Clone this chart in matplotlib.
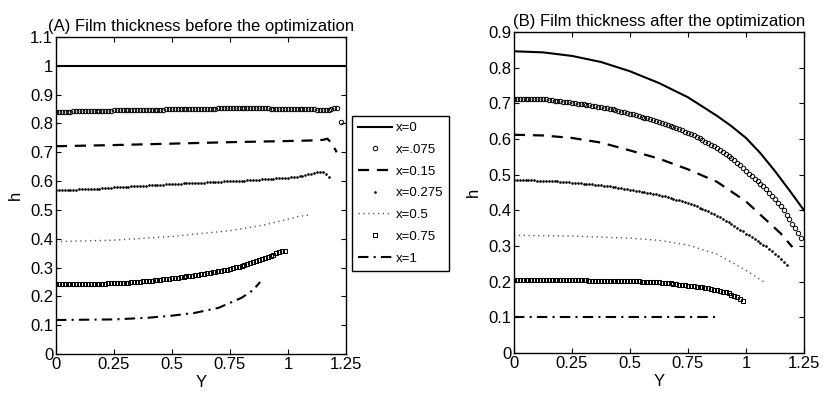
import numpy as np
import matplotlib
matplotlib.use("Agg")
import matplotlib.pyplot as plt
from matplotlib.ticker import FuncFormatter

plt.rcParams['font.family'] = ['Liberation Sans', 'DejaVu Sans']

labels = ['x=0', 'x=.075', 'x=0.15', 'x=0.275', 'x=0.5', 'x=0.75', 'x=1']
step = 0.0125

# ---- (A) before the optimization ----
a_y0 = [0, 1.25]
a_h0 = [1.0, 1.0]

a_h1 = [0.841, 0.841, 0.841, 0.841, 0.841, 0.841, 0.842, 0.842, 0.842, 0.842,
        0.842, 0.842, 0.843, 0.843, 0.843, 0.843, 0.844, 0.844, 0.844, 0.844,
        0.845, 0.845, 0.845, 0.845, 0.846, 0.846, 0.846, 0.846, 0.847, 0.847,
        0.847, 0.847, 0.847, 0.847, 0.848, 0.848, 0.848, 0.848, 0.849, 0.849,
        0.849, 0.849, 0.849, 0.849, 0.850, 0.850, 0.850, 0.850, 0.850, 0.850,
        0.851, 0.851, 0.851, 0.851, 0.851, 0.851, 0.852, 0.852, 0.852, 0.852,
        0.852, 0.852, 0.852, 0.852, 0.852, 0.852, 0.852, 0.852, 0.852, 0.852,
        0.852, 0.852, 0.852, 0.852, 0.851, 0.851, 0.851, 0.851, 0.851, 0.851,
        0.851, 0.851, 0.850, 0.850, 0.850, 0.850, 0.849, 0.849, 0.849, 0.849,
        0.848, 0.848, 0.847, 0.847, 0.847, 0.849, 0.852, 0.855, 0.806]
a_y1 = list(np.arange(0, 1.2126, step)) + [1.23]

a_y2 = [0, 0.25, 0.5, 0.75, 1.0, 1.1, 1.15, 1.17, 1.19, 1.21]
a_h2 = [0.721, 0.725, 0.730, 0.735, 0.739, 0.741, 0.743, 0.747, 0.730, 0.700]

a_h3 = [0.568, 0.568, 0.569, 0.569, 0.569, 0.570, 0.570, 0.570, 0.571, 0.571,
        0.572, 0.572, 0.573, 0.573, 0.574, 0.574, 0.575, 0.576, 0.577, 0.577,
        0.578, 0.578, 0.579, 0.579, 0.580, 0.581, 0.582, 0.582, 0.583, 0.583,
        0.584, 0.584, 0.585, 0.586, 0.587, 0.587, 0.588, 0.588, 0.589, 0.589,
        0.590, 0.590, 0.591, 0.591, 0.592, 0.592, 0.593, 0.593, 0.594, 0.594,
        0.595, 0.595, 0.596, 0.596, 0.597, 0.597, 0.598, 0.598, 0.599, 0.599,
        0.600, 0.600, 0.601, 0.601, 0.602, 0.602, 0.603, 0.603, 0.604, 0.604,
        0.605, 0.606, 0.607, 0.607, 0.608, 0.608, 0.609, 0.609, 0.610, 0.611,
        0.612, 0.613, 0.614, 0.615, 0.617, 0.619, 0.621, 0.623, 0.626, 0.628,
        0.630, 0.631, 0.630, 0.624, 0.614]
a_y3 = list(np.arange(0, 1.1501, step)) + [1.1625, 1.175]

a_y4 = [0, 0.25, 0.5, 0.75, 0.9, 1.0, 1.05, 1.09]
a_h4 = [0.390, 0.395, 0.408, 0.428, 0.448, 0.468, 0.478, 0.482]

a_h5 = [0.242, 0.242, 0.242, 0.242, 0.242, 0.242, 0.242, 0.242, 0.242, 0.242,
        0.243, 0.243, 0.243, 0.243, 0.243, 0.243, 0.244, 0.244, 0.245, 0.245,
        0.246, 0.246, 0.247, 0.247, 0.248, 0.248, 0.249, 0.250, 0.251, 0.251,
        0.252, 0.253, 0.254, 0.255, 0.256, 0.257, 0.258, 0.259, 0.260, 0.261,
        0.263, 0.264, 0.265, 0.266, 0.268, 0.269, 0.271, 0.272, 0.274, 0.275,
        0.277, 0.278, 0.280, 0.281, 0.283, 0.285, 0.287, 0.289, 0.291, 0.293,
        0.296, 0.298, 0.301, 0.303, 0.306, 0.309, 0.312, 0.315, 0.318, 0.321,
        0.325, 0.329, 0.333, 0.337, 0.341, 0.345, 0.350, 0.353, 0.356, 0.358]
a_y5 = np.arange(0, 0.9876, step)

a_y6 = [0, 0.25, 0.4, 0.5, 0.6, 0.7, 0.8, 0.85, 0.88]
a_h6 = [0.118, 0.120, 0.126, 0.133, 0.143, 0.160, 0.195, 0.222, 0.250]

# ---- (B) after the optimization ----
b_y0 = [0, 0.125, 0.25, 0.375, 0.5, 0.625, 0.75, 0.875, 0.9375, 1.0,
        1.0625, 1.125, 1.1875, 1.25]
b_h0 = [0.846, 0.843, 0.833, 0.816, 0.790, 0.757, 0.717, 0.665, 0.636, 0.603,
        0.560, 0.510, 0.456, 0.400]

b_h1 = [0.713, 0.713, 0.713, 0.713, 0.713, 0.713, 0.712, 0.712, 0.712, 0.712,
        0.711, 0.711, 0.710, 0.709, 0.708, 0.707, 0.706, 0.705, 0.704, 0.703,
        0.701, 0.700, 0.699, 0.698, 0.697, 0.696, 0.695, 0.694, 0.692, 0.691,
        0.690, 0.688, 0.686, 0.685, 0.683, 0.681, 0.679, 0.677, 0.675, 0.673,
        0.671, 0.669, 0.667, 0.665, 0.662, 0.660, 0.658, 0.656, 0.653, 0.651,
        0.648, 0.645, 0.642, 0.639, 0.636, 0.633, 0.630, 0.627, 0.624, 0.621,
        0.617, 0.614, 0.610, 0.606, 0.602, 0.598, 0.593, 0.589, 0.584, 0.580,
        0.575, 0.570, 0.564, 0.559, 0.553, 0.547, 0.541, 0.534, 0.526, 0.518,
        0.510, 0.503, 0.496, 0.489, 0.482, 0.475, 0.467, 0.459, 0.450, 0.441,
        0.432, 0.422, 0.412, 0.400, 0.388, 0.375, 0.362, 0.350, 0.337, 0.322]
b_y1 = np.arange(0, 1.2376, step)

b_y2 = [0, 0.125, 0.25, 0.375, 0.5, 0.625, 0.75, 0.875, 1.0, 1.1, 1.15, 1.2]
b_h2 = [0.612, 0.610, 0.603, 0.590, 0.568, 0.545, 0.515, 0.480, 0.425, 0.365,
        0.335, 0.297]

b_h3 = [0.484, 0.484, 0.484, 0.484, 0.484, 0.484, 0.484, 0.484, 0.483, 0.483,
        0.483, 0.483, 0.482, 0.482, 0.481, 0.481, 0.480, 0.480, 0.479, 0.479,
        0.478, 0.478, 0.477, 0.476, 0.475, 0.475, 0.474, 0.473, 0.472, 0.471,
        0.470, 0.469, 0.468, 0.467, 0.466, 0.465, 0.463, 0.462, 0.461, 0.460,
        0.458, 0.457, 0.455, 0.454, 0.452, 0.451, 0.449, 0.448, 0.446, 0.445,
        0.443, 0.441, 0.439, 0.437, 0.434, 0.432, 0.430, 0.428, 0.425, 0.423,
        0.420, 0.417, 0.414, 0.411, 0.408, 0.405, 0.401, 0.397, 0.393, 0.389,
        0.385, 0.381, 0.376, 0.371, 0.366, 0.361, 0.356, 0.351, 0.346, 0.341,
        0.335, 0.330, 0.325, 0.320, 0.314, 0.309, 0.304, 0.299, 0.293, 0.286,
        0.279, 0.271, 0.263, 0.255, 0.247]
b_y3 = np.arange(0, 1.1751, step)

b_y4 = [0, 0.25, 0.5, 0.625, 0.75, 0.875, 1.0, 1.08]
b_h4 = [0.330, 0.328, 0.322, 0.316, 0.303, 0.277, 0.232, 0.198]

b_h5 = [0.205, 0.205, 0.205, 0.205, 0.205, 0.205, 0.205, 0.205, 0.205, 0.205,
        0.205, 0.205, 0.205, 0.205, 0.204, 0.204, 0.204, 0.204, 0.204, 0.204,
        0.204, 0.204, 0.204, 0.204, 0.204, 0.204, 0.203, 0.203, 0.203, 0.203,
        0.203, 0.203, 0.203, 0.203, 0.202, 0.202, 0.202, 0.202, 0.202, 0.202,
        0.202, 0.202, 0.201, 0.201, 0.200, 0.200, 0.200, 0.200, 0.199, 0.199,
        0.198, 0.197, 0.196, 0.196, 0.195, 0.194, 0.193, 0.192, 0.191, 0.190,
        0.189, 0.188, 0.187, 0.186, 0.185, 0.184, 0.182, 0.181, 0.179, 0.178,
        0.176, 0.174, 0.172, 0.170, 0.167, 0.164, 0.160, 0.156, 0.152, 0.146]
b_y5 = np.arange(0, 0.9876, step)

b_y6 = [0, 0.87]
b_h6 = [0.1, 0.1]

styles = [
    dict(ls='-', lw=1.5, color='k'),
    dict(ls='none', marker='o', ms=3.2, mfc='none', mec='k', mew=0.7),
    dict(ls='--', lw=1.6, color='k', dashes=(5, 3.5)),
    dict(ls='none', marker='.', ms=1.8, color='k'),
    dict(ls=':', lw=1.0, color='0.3', dashes=(0.9, 2.6)),
    dict(ls='none', marker='s', ms=2.9, mfc='none', mec='k', mew=0.75),
    dict(ls='-.', lw=1.5, color='k', dashes=(5, 2.5, 1, 2.5)),
]

fig = plt.figure(figsize=(8.23, 3.94), dpi=100)
ax1 = fig.add_axes([0.068, 0.1015, 0.3524, 0.8046])
ax2 = fig.add_axes([0.6245, 0.104, 0.3524, 0.8147])

a_data = [(a_y0, a_h0), (a_y1, a_h1), (a_y2, a_h2), (a_y3, a_h3),
          (a_y4, a_h4), (a_y5, a_h5), (a_y6, a_h6)]
b_data = [(b_y0, b_h0), (b_y1, b_h1), (b_y2, b_h2), (b_y3, b_h3),
          (b_y4, b_h4), (b_y5, b_h5), (b_y6, b_h6)]

handles = []
for (yy, hh), st, lab in zip(a_data, styles, labels):
    ln, = ax1.plot(yy, hh, label=lab, **st)
    handles.append(ln)
for (yy, hh), st in zip(b_data, styles):
    ax2.plot(yy, hh, **st)

fmt = FuncFormatter(lambda v, p: '%g' % round(v, 3))
for ax, ymax, title in [(ax1, 1.1, '(A) Film thickness before the optimization'),
                        (ax2, 0.9, '(B) Film thickness after the optimization')]:
    ax.set_xlim(0, 1.25)
    ax.set_ylim(0, ymax)
    ax.set_xticks([0, 0.25, 0.5, 0.75, 1.0, 1.25])
    ax.set_yticks(np.arange(0, ymax + 0.001, 0.1))
    ax.xaxis.set_major_formatter(fmt)
    ax.yaxis.set_major_formatter(fmt)
    ax.tick_params(direction='in', top=True, right=True, length=3.5,
                   width=0.8, labelsize=12, pad=2)
    for s in ax.spines.values():
        s.set_linewidth(1.0)
    ax.set_title(title, fontsize=12, pad=4)
    ax.set_xlabel('Y', fontsize=12, labelpad=2)
    ax.set_ylabel('h', fontsize=12, labelpad=5)

leg = fig.legend(handles=handles, loc='upper left',
                 bbox_to_anchor=(0.4277, 0.7056), borderaxespad=0,
                 fontsize=9.5, numpoints=1, handlelength=2.6,
                 handletextpad=0.25, labelspacing=0.72, borderpad=0.45,
                 fancybox=False, framealpha=1, edgecolor='k')
leg.get_frame().set_linewidth(1.0)

fig.savefig('out.png', dpi=100)
